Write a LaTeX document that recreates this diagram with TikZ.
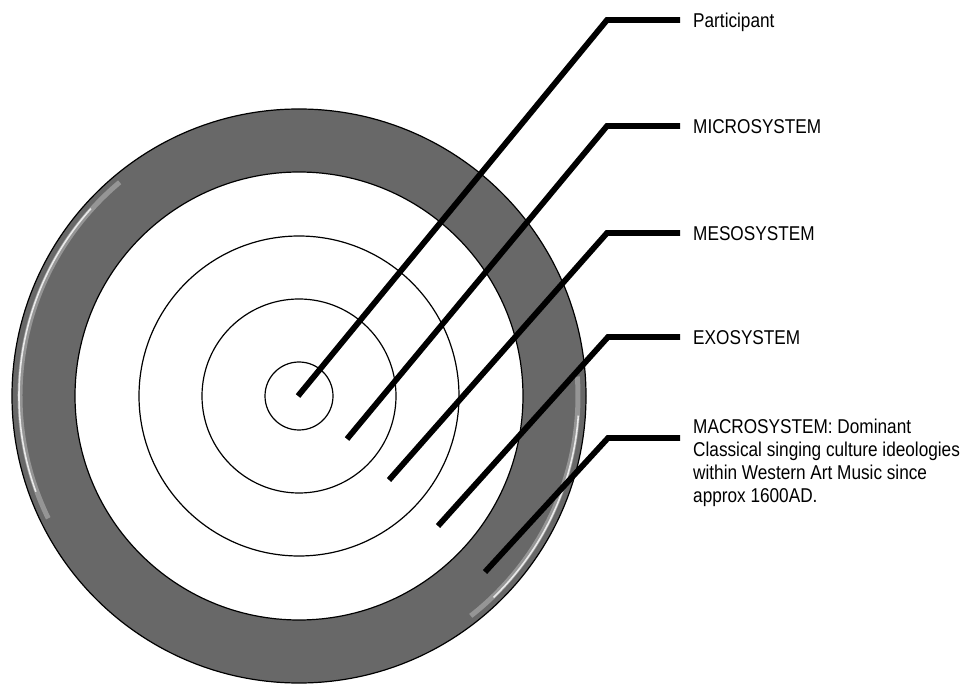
\documentclass[tikz,border=0pt]{standalone}
\usepackage{fontspec}
\setmainfont{Liberation Sans}[FakeStretch=0.86]
\definecolor{ringgray}{RGB}{104,104,104}
\begin{document}
\begin{tikzpicture}[x=1pt,y=-1pt,
    ring/.style={circle,draw=black,line width=1.2pt,inner sep=0pt,fill=white},
    leader/.style={line width=5.8pt},
    lbltext/.style={inner xsep=13pt,inner ysep=0pt,font=\fontsize{20}{23}\selectfont},
    lbl/.style={lbltext,anchor=west,text height=14.3pt,text depth=0pt}]
  \useasboundingbox (0,0) rectangle (970,684);
  % rings, outside in
  \node[ring,fill=ringgray,minimum size=574pt] (macro) at (299,396) {};
  \draw[white,opacity=0.3,line width=5pt] (299,396) ++(154:279) arc (154:230:279);
  \draw[white,opacity=0.8,line width=1.6pt] (299,396) ++(160:280) arc (160:222:280);
  \draw[white,opacity=0.3,line width=5pt] (299,396) ++(-4:279) arc (-4:52:279);
  \draw[white,opacity=0.8,line width=1.6pt] (299,396) ++(4:280) arc (4:46:280);
  \node[ring,minimum size=448pt] (exo) at (299,396) {};
  \node[ring,minimum size=320pt] (meso) at (299,396) {};
  \node[ring,minimum size=194pt] (micro) at (299,396) {};
  \node[ring,minimum size=68pt] (part) at (299,396) {};
  % labels
  \node[lbl] (lblPart) at (680,20) {Participant};
  \node[lbl] (lblMicro) at (680,126) {MICROSYSTEM};
  \node[lbl] (lblMeso) at (680,233) {MESOSYSTEM};
  \node[lbl] (lblExo) at (680,337) {EXOSYSTEM};
  \node[lbltext,anchor=north west,align=left] (lblMacro) at (680,419)
    {MACROSYSTEM: Dominant\\Classical singing culture ideologies\\within Western Art Music since\\approx 1600AD.};
  % leader lines
  \coordinate (partStart) at (298,396);   \coordinate (partKnee) at (607,20);
  \coordinate (microStart) at (347,439);  \coordinate (microKnee) at (607,126);
  \coordinate (mesoStart) at (389,480);   \coordinate (mesoKnee) at (607,233);
  \coordinate (exoStart) at (438,526);    \coordinate (exoKnee) at (608,337);
  \coordinate (macroStart) at (485,572);  \coordinate (macroKnee) at (608,438);
  \coordinate (macroEnd) at (680,438);
  \draw[leader] (partStart) -- (partKnee) -- (lblPart.west);
  \draw[leader] (microStart) -- (microKnee) -- (lblMicro.west);
  \draw[leader] (mesoStart) -- (mesoKnee) -- (lblMeso.west);
  \draw[leader] (exoStart) -- (exoKnee) -- (lblExo.west);
  \draw[leader] (macroStart) -- (macroKnee) -- (macroEnd);
\end{tikzpicture}
\end{document}
